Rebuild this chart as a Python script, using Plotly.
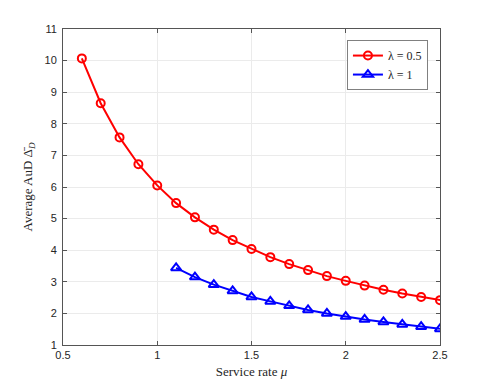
import plotly.graph_objects as go

# service rate mu for each curve
mu_half = [0.6, 0.7, 0.8, 0.9, 1.0, 1.1, 1.2, 1.3, 1.4, 1.5,
           1.6, 1.7, 1.8, 1.9, 2.0, 2.1, 2.2, 2.3, 2.4, 2.5]
aud_half = [10.07, 8.65, 7.57, 6.72, 6.05, 5.49, 5.04, 4.65, 4.32, 4.04,
            3.78, 3.56, 3.37, 3.18, 3.03, 2.88, 2.75, 2.63, 2.52, 2.42]

mu_one = [1.1, 1.2, 1.3, 1.4, 1.5, 1.6, 1.7, 1.8, 1.9, 2.0,
          2.1, 2.2, 2.3, 2.4, 2.5]
aud_one = [3.44, 3.15, 2.91, 2.71, 2.52, 2.38, 2.24, 2.11, 2.00, 1.90,
           1.81, 1.73, 1.65, 1.58, 1.51]

x_ticks = [0.5, 1, 1.5, 2, 2.5]
x_labels = ["0.5", "1", "1.5", "2", "2.5"]
y_ticks = list(range(1, 12))

serif = "Liberation Serif, DejaVu Serif, serif"
sans = "Liberation Sans, Arial, sans-serif"

fig = go.Figure()
fig.add_trace(go.Scatter(
    x = mu_half, y = aud_half, mode = "lines+markers",
    name = "λ = 0.5",
    line = dict(color = "#ff0000", width = 2),
    marker = dict(symbol = "circle-open", size = 8, color = "#ff0000",
                  line = dict(width = 2, color = "#ff0000"))
))
fig.add_trace(go.Scatter(
    x = mu_one, y = aud_one, mode = "lines+markers",
    name = "λ = 1",
    line = dict(color = "#0000ff", width = 2),
    marker = dict(symbol = "triangle-up-open", size = 9, color = "#0000ff",
                  line = dict(width = 2, color = "#0000ff"))
))

axis_common = dict(
    showgrid = True, gridcolor = "#ebebeb", gridwidth = 1,
    zeroline = False,
    showline = True, linecolor = "#555555", linewidth = 1,
    mirror = "ticks", ticks = "inside", ticklen = 4, tickcolor = "#555555",
    tickfont = dict(family = sans, size = 11, color = "#262626"),
)

# page body has an 8px margin, so the figure is shifted; margins compensate
fig.update_layout(
    width = 485, height = 388,
    paper_bgcolor = "white", plot_bgcolor = "white",
    margin = dict(l = 55, r = 53, t = 21, b = 51),
    showlegend = True,
    legend = dict(
        x = 0.968, y = 0.965, xanchor = "right", yanchor = "top",
        bgcolor = "white", bordercolor = "#808080", borderwidth = 1,
        font = dict(family = serif, size = 12, color = "#262626"),
        tracegroupgap = 0, itemwidth = 30,
    ),
    xaxis = dict(
        range = [0.5, 2.5], tickvals = x_ticks, ticktext = x_labels,
        title = dict(text = "Service rate <i>μ</i>", standoff = 6,
                     font = dict(family = serif, size = 13, color = "#262626")),
        **axis_common
    ),
    yaxis = dict(
        range = [1, 11], tickvals = y_ticks, ticklabelstandoff = 3,
        title = dict(text = "Average AuD Δ̄<sub><i>D</i></sub>", standoff = 8,
                     font = dict(family = serif, size = 13, color = "#262626")),
        **axis_common
    ),
)

fig.write_html("out.html")
